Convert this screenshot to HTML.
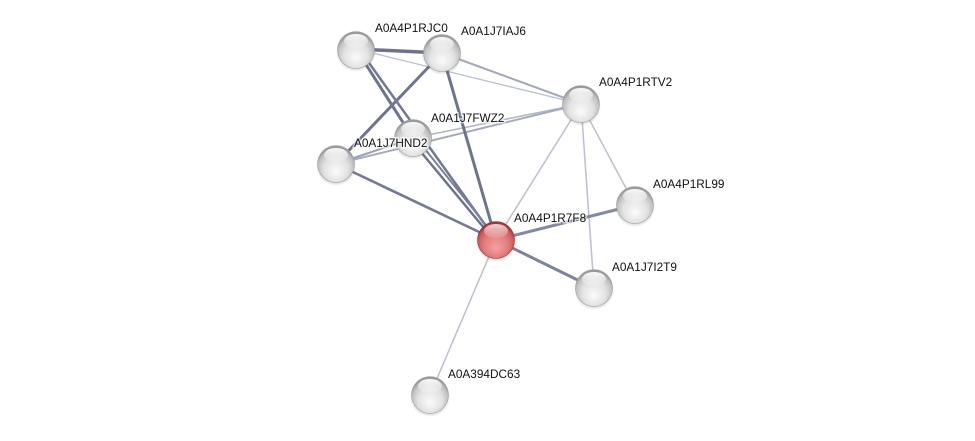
<!DOCTYPE html>
<html><head><meta charset="utf-8">
<style>
html,body{margin:0;padding:0;background:#fff;}
svg{display:block;}
text{font-family:"Liberation Sans",Arial,sans-serif;font-size:11.8px;fill:#111;}
</style></head>
<body>
<svg width="975" height="441" viewBox="0 0 975 441" xmlns="http://www.w3.org/2000/svg">
<defs>
<radialGradient id="gball" cx="50%" cy="60%" r="55%" fx="50%" fy="72%">
<stop offset="0" stop-color="#fbfbfb"/>
<stop offset="0.6" stop-color="#e2e2e2"/>
<stop offset="0.88" stop-color="#c0c0c0"/>
<stop offset="1" stop-color="#9a9a9a"/>
</radialGradient>
<radialGradient id="rball" cx="50%" cy="60%" r="55%" fx="50%" fy="72%">
<stop offset="0" stop-color="#f4a2a2"/>
<stop offset="0.6" stop-color="#e27c7c"/>
<stop offset="0.88" stop-color="#cc5a5a"/>
<stop offset="1" stop-color="#a03636"/>
</radialGradient>
<linearGradient id="hl" x1="0" y1="0" x2="0" y2="1">
<stop offset="0" stop-color="#fff" stop-opacity="0.95"/>
<stop offset="1" stop-color="#fff" stop-opacity="0.1"/>
</linearGradient>
<radialGradient id="shadow" cx="50%" cy="50%" r="50%">
<stop offset="0.6" stop-color="#000" stop-opacity="0.3"/>
<stop offset="1" stop-color="#000" stop-opacity="0"/>
</radialGradient>
</defs>

<!-- edges -->
<g stroke-linecap="round" fill="none">
<line x1="356" y1="49" x2="581" y2="104" stroke="#bcc0cf" stroke-width="1.3"/>
<line x1="581" y1="104" x2="496" y2="240" stroke="#bcc0cf" stroke-width="1.5"/>
<line x1="581" y1="104" x2="635" y2="205" stroke="#bcc0cf" stroke-width="1.5"/>
<line x1="581" y1="104" x2="594" y2="288" stroke="#bcc0cf" stroke-width="1.5"/>
<line x1="496" y1="240" x2="430" y2="395" stroke="#bcc0cf" stroke-width="1.5"/>
<line x1="413" y1="138" x2="581" y2="104" stroke="#b0b4c6" stroke-width="1.5"/>
<line x1="336" y1="164" x2="581" y2="104" stroke="#a6aabe" stroke-width="2"/>
<line x1="442" y1="53" x2="581" y2="104" stroke="#a4a8bc" stroke-width="2"/>
<line x1="496" y1="240" x2="635" y2="205" stroke="#848aa3" stroke-width="3"/>
<line x1="496" y1="240" x2="594" y2="288" stroke="#7c82a0" stroke-width="3"/>
<line x1="336" y1="164" x2="496" y2="240" stroke="#747a96" stroke-width="2.6"/>
<line x1="336" y1="164" x2="413" y2="138" stroke="#9a9fb5" stroke-width="2"/>
<line x1="356" y1="49" x2="442" y2="53" stroke="#6e7490" stroke-width="3.5"/>
<line x1="442" y1="53" x2="336" y2="164" stroke="#6e7490" stroke-width="3"/>
<line x1="442" y1="53" x2="496" y2="240" stroke="#6e7490" stroke-width="3"/>
<line x1="356" y1="49" x2="413" y2="138" stroke="#6e7490" stroke-width="3"/>
<line x1="359" y1="49" x2="496" y2="240" stroke="#737994" stroke-width="2.5"/>
<line x1="411" y1="140" x2="494" y2="240" stroke="#6e7490" stroke-width="2.5"/>
<line x1="416" y1="138" x2="498" y2="240" stroke="#7a809b" stroke-width="2"/>
</g>

<!-- nodes -->
<g>
<g transform="translate(356,50)">
<ellipse cx="0" cy="3" rx="20" ry="19" fill="url(#shadow)"/>
<circle r="18.5" fill="url(#gball)" stroke="#a0a0a0" stroke-width="0.6"/>
<ellipse cx="0" cy="-9" rx="12" ry="7" fill="url(#hl)"/>
</g>
<g transform="translate(442,53)">
<ellipse cx="0" cy="3" rx="20" ry="19" fill="url(#shadow)"/>
<circle r="18.5" fill="url(#gball)" stroke="#a0a0a0" stroke-width="0.6"/>
<ellipse cx="0" cy="-9" rx="12" ry="7" fill="url(#hl)"/>
</g>
<g transform="translate(581,104)">
<ellipse cx="0" cy="3" rx="20" ry="19" fill="url(#shadow)"/>
<circle r="18.5" fill="url(#gball)" stroke="#a0a0a0" stroke-width="0.6"/>
<ellipse cx="0" cy="-9" rx="12" ry="7" fill="url(#hl)"/>
</g>
<g transform="translate(413,138)">
<ellipse cx="0" cy="3" rx="20" ry="19" fill="url(#shadow)"/>
<circle r="18.5" fill="url(#gball)" stroke="#a0a0a0" stroke-width="0.6"/>
<ellipse cx="0" cy="-9" rx="12" ry="7" fill="url(#hl)"/>
</g>
<g transform="translate(336,164)">
<ellipse cx="0" cy="3" rx="20" ry="19" fill="url(#shadow)"/>
<circle r="18.5" fill="url(#gball)" stroke="#a0a0a0" stroke-width="0.6"/>
<ellipse cx="0" cy="-9" rx="12" ry="7" fill="url(#hl)"/>
</g>
<g transform="translate(635,205)">
<ellipse cx="0" cy="3" rx="20" ry="19" fill="url(#shadow)"/>
<circle r="18.5" fill="url(#gball)" stroke="#a0a0a0" stroke-width="0.6"/>
<ellipse cx="0" cy="-9" rx="12" ry="7" fill="url(#hl)"/>
</g>
<g transform="translate(594,288)">
<ellipse cx="0" cy="3" rx="20" ry="19" fill="url(#shadow)"/>
<circle r="18.5" fill="url(#gball)" stroke="#a0a0a0" stroke-width="0.6"/>
<ellipse cx="0" cy="-9" rx="12" ry="7" fill="url(#hl)"/>
</g>
<g transform="translate(430,395)">
<ellipse cx="0" cy="3" rx="20" ry="19" fill="url(#shadow)"/>
<circle r="18.5" fill="url(#gball)" stroke="#a0a0a0" stroke-width="0.6"/>
<ellipse cx="0" cy="-9" rx="12" ry="7" fill="url(#hl)"/>
</g>
<g transform="translate(496,240)">
<ellipse cx="0" cy="3" rx="20" ry="19" fill="url(#shadow)"/>
<circle r="18.5" fill="url(#rball)" stroke="#9a3232" stroke-width="0.6"/>
<ellipse cx="0" cy="-9" rx="12" ry="7" fill="url(#hl)" opacity="0.8"/>
</g>
</g>

<!-- labels -->
<g stroke="#fff" stroke-width="3" stroke-opacity="0.6" paint-order="stroke">
<text x="375" y="32">A0A4P1RJC0</text>
<text x="461" y="35">A0A1J7IAJ6</text>
<text x="599" y="86">A0A4P1RTV2</text>
<text x="431" y="122">A0A1J7FWZ2</text>
<text x="354" y="147">A0A1J7HND2</text>
<text x="653" y="188">A0A4P1RL99</text>
<text x="514" y="222">A0A4P1R7F8</text>
<text x="612" y="271">A0A1J7I2T9</text>
<text x="448" y="378">A0A394DC63</text>
</g>
</svg>
</body></html>
